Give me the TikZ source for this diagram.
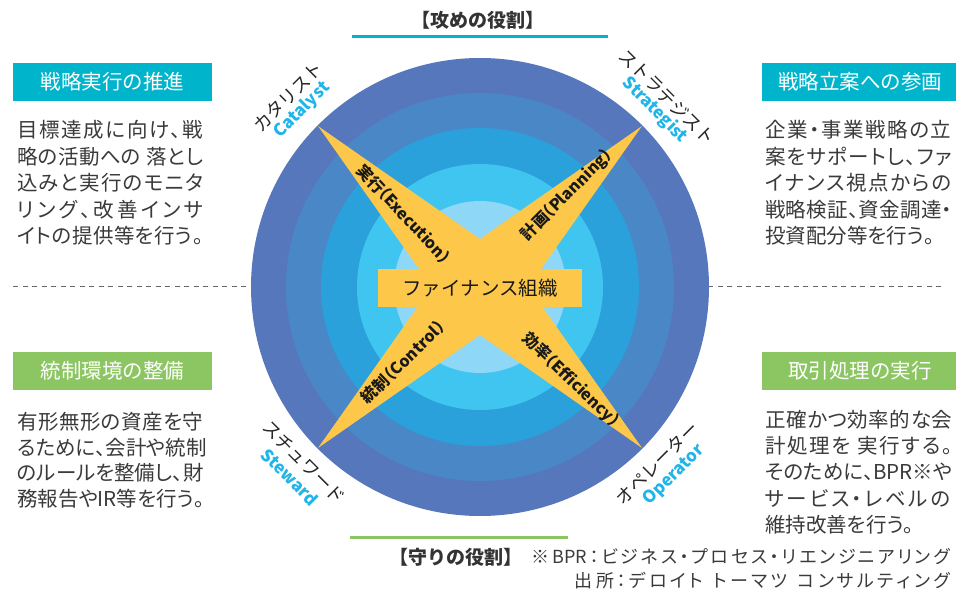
\documentclass[tikz,border=0pt]{standalone}
\usepackage{fontspec}
\setmainfont{Noto Sans CJK JP}
\newfontfamily\jpp[RawFeature=+palt]{Noto Sans CJK JP}
\newfontfamily\jph[RawFeature=+halt]{Noto Sans CJK JP}
\ExplSyntaxOn
\NewDocumentCommand\jline{mm}
  { \hbox_to_wd:nn {#1} { \tl_map_inline:nn {#2} { ##1 \hskip 0pt plus 1fil } \unskip } }
\ExplSyntaxOff
\definecolor{ringA}{HTML}{5677BC}
\definecolor{ringB}{HTML}{4A87C6}
\definecolor{ringC}{HTML}{2AA1DB}
\definecolor{ringD}{HTML}{40C5F1}
\definecolor{ringE}{HTML}{8FD7F6}
\definecolor{armY}{HTML}{FDC84A}
\definecolor{headC}{HTML}{00B4CB}
\definecolor{headG}{HTML}{8CC662}
\definecolor{engC}{HTML}{20B5E8}
\definecolor{bodyT}{HTML}{3A3A3A}
\begin{document}
\begin{tikzpicture}[x=1pt,y=-1pt,
  headbox/.style={fill=#1, text=white, minimum width=199pt, minimum height=38pt, inner sep=0pt,
    font=\fontsize{20.5}{24}\selectfont},
  bodytext/.style={anchor=north west, align=left, inner sep=0pt, text=bodyT,
    font=\jpp\fontsize{20.5}{26.6}\selectfont},
  armtext/.style={inner sep=0pt, text=black!90, font=\jph\fontsize{16}{18}\selectfont\bfseries},
  rolejp/.style={inner sep=0pt, text=black!85, font=\fontsize{18}{20}\selectfont},
  roleen/.style={inner sep=0pt, text=engC, font=\fontsize{17}{20}\selectfont\bfseries},
  roletitle/.style={inner sep=0pt, text=black!80, font=\fontsize{19}{22}\selectfont\bfseries},
  note/.style={inner sep=0pt, anchor=east, text=bodyT, font=\jpp\fontsize{18}{20}\selectfont},
  divider/.style={draw=black!60, line width=1pt, dash pattern=on 5pt off 4.5pt}
]
\useasboundingbox (0,0) rectangle (956,596);

% dashed dividers
\coordinate (dL1) at (13,286);
\coordinate (dL2) at (252,286);
\coordinate (dR1) at (708,286);
\coordinate (dR2) at (945,286);
\draw[divider] (dL1) -- (dL2);
\draw[divider] (dR1) -- (dR2);

% rings
\coordinate (C) at (480,287);
\fill[ringA] (C) circle[radius=229pt];
\fill[ringB] (C) circle[radius=194pt];
\fill[ringC] (C) circle[radius=159pt];
\fill[ringD] (C) circle[radius=123pt];
\fill[ringE] (C) circle[radius=86pt];

% X arms
\coordinate (T1) at (318,126);
\coordinate (T2) at (642,126);
\coordinate (T3) at (318,448);
\coordinate (T4) at (642,448);
\coordinate (P1) at (508.3,258.7);
\coordinate (P2) at (451.7,315.3);
\coordinate (Q1) at (508.3,315.3);
\coordinate (Q2) at (451.7,258.7);
\fill[armY] (T1) -- (P1) -- (P2) -- cycle;
\fill[armY] (T4) -- (P1) -- (P2) -- cycle;
\fill[armY] (T2) -- (Q1) -- (Q2) -- cycle;
\fill[armY] (T3) -- (Q1) -- (Q2) -- cycle;

% centre box
\node[fill=armY, minimum width=204pt, minimum height=38pt, inner sep=0pt,
  font=\fontsize{19.5}{22}\selectfont, text=black!90] (core) at (480,288) {ファイナンス組織};

% arm labels
\node[armtext, rotate=-47] (exe) at (404,214) {実行（Execution）};
\node[armtext, rotate=45] (pla) at (567,195) {計画（Planning）};
\node[armtext, rotate=44] (con) at (403,362) {統制（Control）};
\node[armtext, rotate=-44] (eff) at (571,380) {効率（Efficiency）};

% corner role labels
\node[rolejp, rotate=45] (catj) at (288,97) {カタリスト};
\node[roleen, rotate=45] (cate) at (302,110) {Catalyst};
\node[rolejp, rotate=-45] (strj) at (667,97) {ストラテジスト};
\node[roleen, rotate=-45] (stre) at (655,110) {Strategist};
\node[rolejp, rotate=-45] (stwj) at (304,462) {スチュワード};
\node[roleen, rotate=-45] (stwe) at (290,477) {Steward};
\node[rolejp, rotate=45] (opj) at (657,463) {オペレーター};
\node[roleen, rotate=45] (ope) at (674,475) {Operator};

% top and bottom role titles
\node[roletitle] (atk) at (478,20) {【攻めの役割】};
\coordinate (aL) at (352,37);
\coordinate (aR) at (608,37);
\draw[headC, line width=3pt] (aL) -- (aR);
\coordinate (gL) at (350,537);
\coordinate (gR) at (568,537);
\draw[headG, line width=3pt] (gL) -- (gR);
\node[roletitle] (def) at (456,557) {【守りの役割】};

% headers
\node[headbox=headC] (h1) at (112.5,82) {戦略実行の推進};
\node[headbox=headC, minimum width=196pt] (h2) at (860,82) {戦略立案への参画};
\node[headbox=headG] (h3) at (112.5,371) {統制環境の整備};
\node[headbox=headG, minimum width=196pt] (h4) at (860,371) {取引処理の実行};

% body texts
\node[bodytext] (b1) at (17,120) {%
\jline{186pt}{目標達成に向け、戦}\\
\jline{186pt}{略の活動への{\ }落とし}\\
\jline{186pt}{込みと実行のモニタ}\\
\jline{186pt}{リング、改善インサ}\\
\jline{186pt}{イトの提供等を行う。}};
\node[bodytext] (b2) at (765,120) {%
\jline{186pt}{企業・事業戦略の立}\\
\jline{187pt}{案をサポートし、ファ}\\
\jline{186pt}{イナンス視点からの}\\
\jline{187pt}{戦略検証、資金調達・}\\
\jline{168pt}{投資配分等を行う。}};
\node[bodytext, font=\jpp\fontsize{20.5}{25.6}\selectfont] (b3) at (17,412) {%
\jline{186pt}{有形無形の資産を守}\\
\jline{187pt}{るために、会計や統制}\\
\jline{186pt}{のルールを整備し、財}\\
\jline{183pt}{務報告や{IR}等を行う。}};
\node[bodytext, font=\jpp\fontsize{20.5}{26.2}\selectfont] (b4) at (765,410) {%
\jline{187pt}{正確かつ効率的な会}\\
\jline{187pt}{計処理を{\ }実行する。}\\
\jline{186pt}{そのために、{BPR}※や}\\
\jline{185pt}{サービス・レベルの}\\
\jline{148pt}{維持改善を行う。}};

% notes
\node[note] (n1) at (950,557) {\jline{418pt}{※{BPR}：ビジネス・プロセス・リエンジニアリング}};
\node[note] (n2) at (950,581) {\jline{375pt}{出所：デロイト{\ }トーマツ{\ }コンサルティング}};
\end{tikzpicture}
\end{document}
